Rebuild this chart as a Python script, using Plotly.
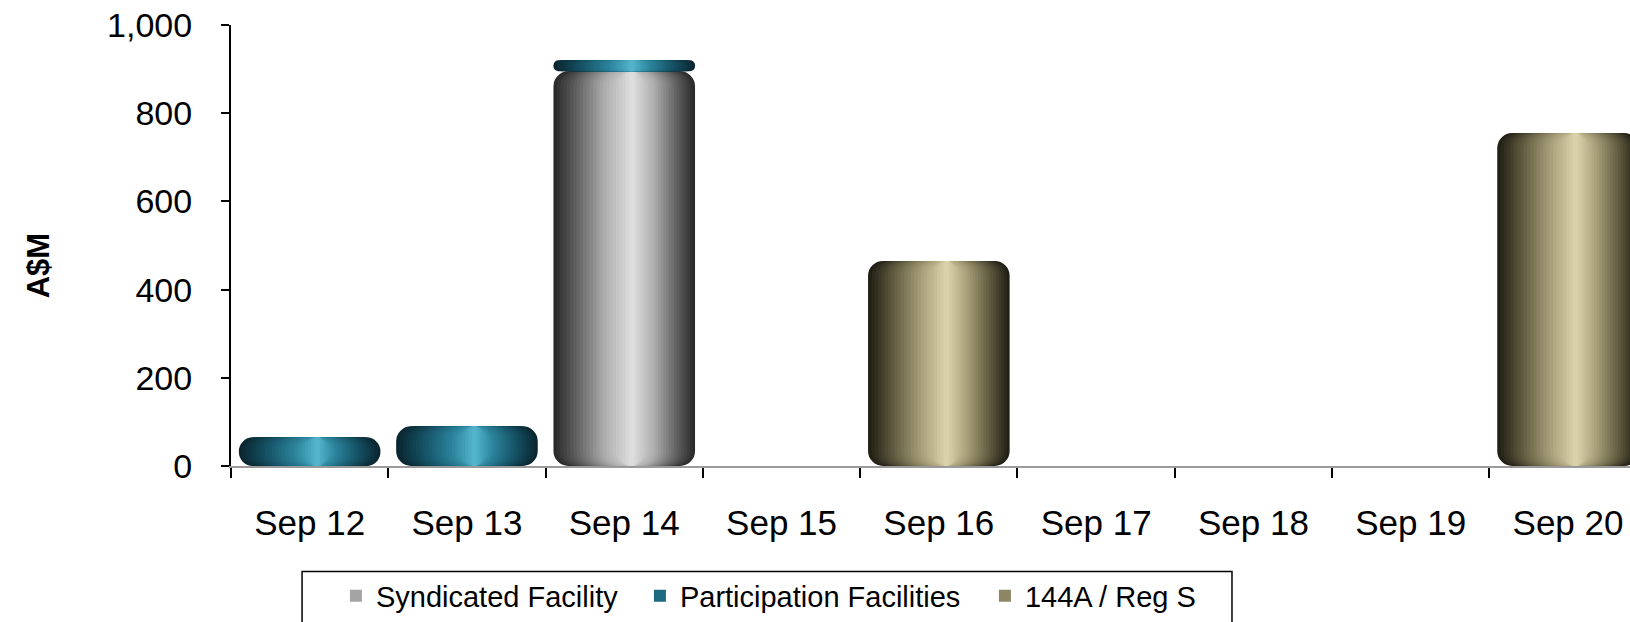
import plotly.graph_objects as go

# Daily issuance, A$M
categories = ["Sep 12", "Sep 13", "Sep 14", "Sep 15", "Sep 16",
              "Sep 17", "Sep 18", "Sep 19", "Sep 20"]
syndicated = [0, 0, 895, 0, 0, 0, 0, 0, 0]
participation = [65, 90, 25, 0, 0, 0, 0, 0, 0]
reg_s = [0, 0, 0, 0, 465, 0, 0, 0, 755]

y_ticks = [0, 200, 400, 600, 800, 1000]

FONT = "Liberation Sans, Arial, sans-serif"


def hex_to_rgb(h):
    h = h.lstrip("#")
    return tuple(int(h[i:i + 2], 16) for i in (0, 2, 4))


def ramp(stops, t):
    """Interpolate a colour along (position, hex) stops."""
    for (p0, c0), (p1, c1) in zip(stops, stops[1:]):
        if t <= p1:
            f = 0 if p1 == p0 else (t - p0) / (p1 - p0)
            a, b = hex_to_rgb(c0), hex_to_rgb(c1)
            return "rgb(%d,%d,%d)" % tuple(round(x + (y - x) * f) for x, y in zip(a, b))
    return "rgb(%d,%d,%d)" % hex_to_rgb(stops[-1][1])


# outer edge (0) -> highlight (1)
shades = {
    "Syndicated Facility": [(0, "#2b2b2b"), (0.3, "#646464"), (0.65, "#adadad"), (1, "#dddddd")],
    "Participation Facilities": [(0, "#0a2731"), (0.35, "#165366"), (0.7, "#2a8199"), (1, "#52b3ca")],
    "144A / Reg S": [(0, "#221f15"), (0.35, "#686246"), (0.7, "#aba37d"), (1, "#d8d1a9")],
}
legend_colors = {
    "Syndicated Facility": "#a4a4a4",
    "Participation Facilities": "#1d6a80",
    "144A / Reg S": "#8c8663",
}
legend_widths = {
    "Syndicated Facility": 259,
    "Participation Facilities": 300,
    "144A / Reg S": 180,
}

series = [
    ("Syndicated Facility", syndicated, [0] * len(categories)),
    ("Participation Facilities", participation, syndicated),
    ("144A / Reg S", reg_s, [s + p for s, p in zip(syndicated, participation)]),
]

HALF = 0.45      # half bar width, category units
HI = 0.05        # highlight sits a little right of centre
LAYERS = 24
RADIUS = 15

fig = go.Figure()
for name, vals, base in series:
    for k in range(LAYERS):
        t = k / (LAYERS - 1)
        left = -HALF + (HI + HALF) * t * 0.96
        right = HALF - (HALF - HI) * t * 0.96
        # nested, progressively narrower bars build the cylinder shading
        fig.add_trace(go.Bar(
            x=categories, y=vals, base=base,
            offset=left, width=right - left,
            marker=dict(color=ramp(shades[name], t), line=dict(width=0), cornerradius=RADIUS),
            name=name, legendgroup=name, showlegend=False, hoverinfo="skip",
        ))
    # legend entry for the series
    fig.add_trace(go.Bar(
        x=[categories[0]], y=[None], name=name, legendgroup=name,
        marker=dict(color=legend_colors[name], line=dict(width=0)),
        legendwidth=legend_widths[name],
        showlegend=True, hoverinfo="skip",
    ))

fig.update_layout(
    width=1630, height=622,
    margin=dict(l=231, r=0, t=25, b=154),
    barmode="overlay",
    plot_bgcolor="white", paper_bgcolor="white",
    font=dict(family=FONT, color="black"),
    xaxis=dict(
        type="category", range=[-0.5, 8.394],
        showline=True, linecolor="#9a9a9a", linewidth=2,
        ticks="outside", tickson="boundaries", ticklen=10, tickwidth=2, tickcolor="black",
        tickfont=dict(size=35), ticklabelstandoff=25,
        showgrid=False, zeroline=False, fixedrange=True,
    ),
    yaxis=dict(
        range=[0, 1000], tickvals=y_ticks, tickformat=",",
        showline=True, linecolor="black", linewidth=2,
        ticks="outside", ticklen=8, tickwidth=2, tickcolor="black",
        tickfont=dict(size=34), ticklabelstandoff=22,
        showgrid=False, zeroline=False, fixedrange=True,
    ),
    legend=dict(
        orientation="h", x=0.075, xanchor="left", y=-0.237, yanchor="top",
        borderwidth=0, bgcolor="rgba(0,0,0,0)",
        font=dict(size=29, family=FONT), traceorder="normal",
    ),
    shapes=[dict(
        # legend frame, running off the bottom edge
        type="rect", xref="paper", yref="paper",
        x0=0.0508, x1=0.7155, y0=-0.2393, y1=-0.45,
        line=dict(color="black", width=1.5), fillcolor="rgba(0,0,0,0)",
        layer="below",
    )],
    annotations=[dict(
        text="<b>A$M</b>", textangle=-90, showarrow=False,
        xref="paper", yref="paper", x=-0.138, y=0.455,
        xanchor="center", yanchor="middle",
        font=dict(size=31, family=FONT),
    )],
)

fig.write_html("out.html")
